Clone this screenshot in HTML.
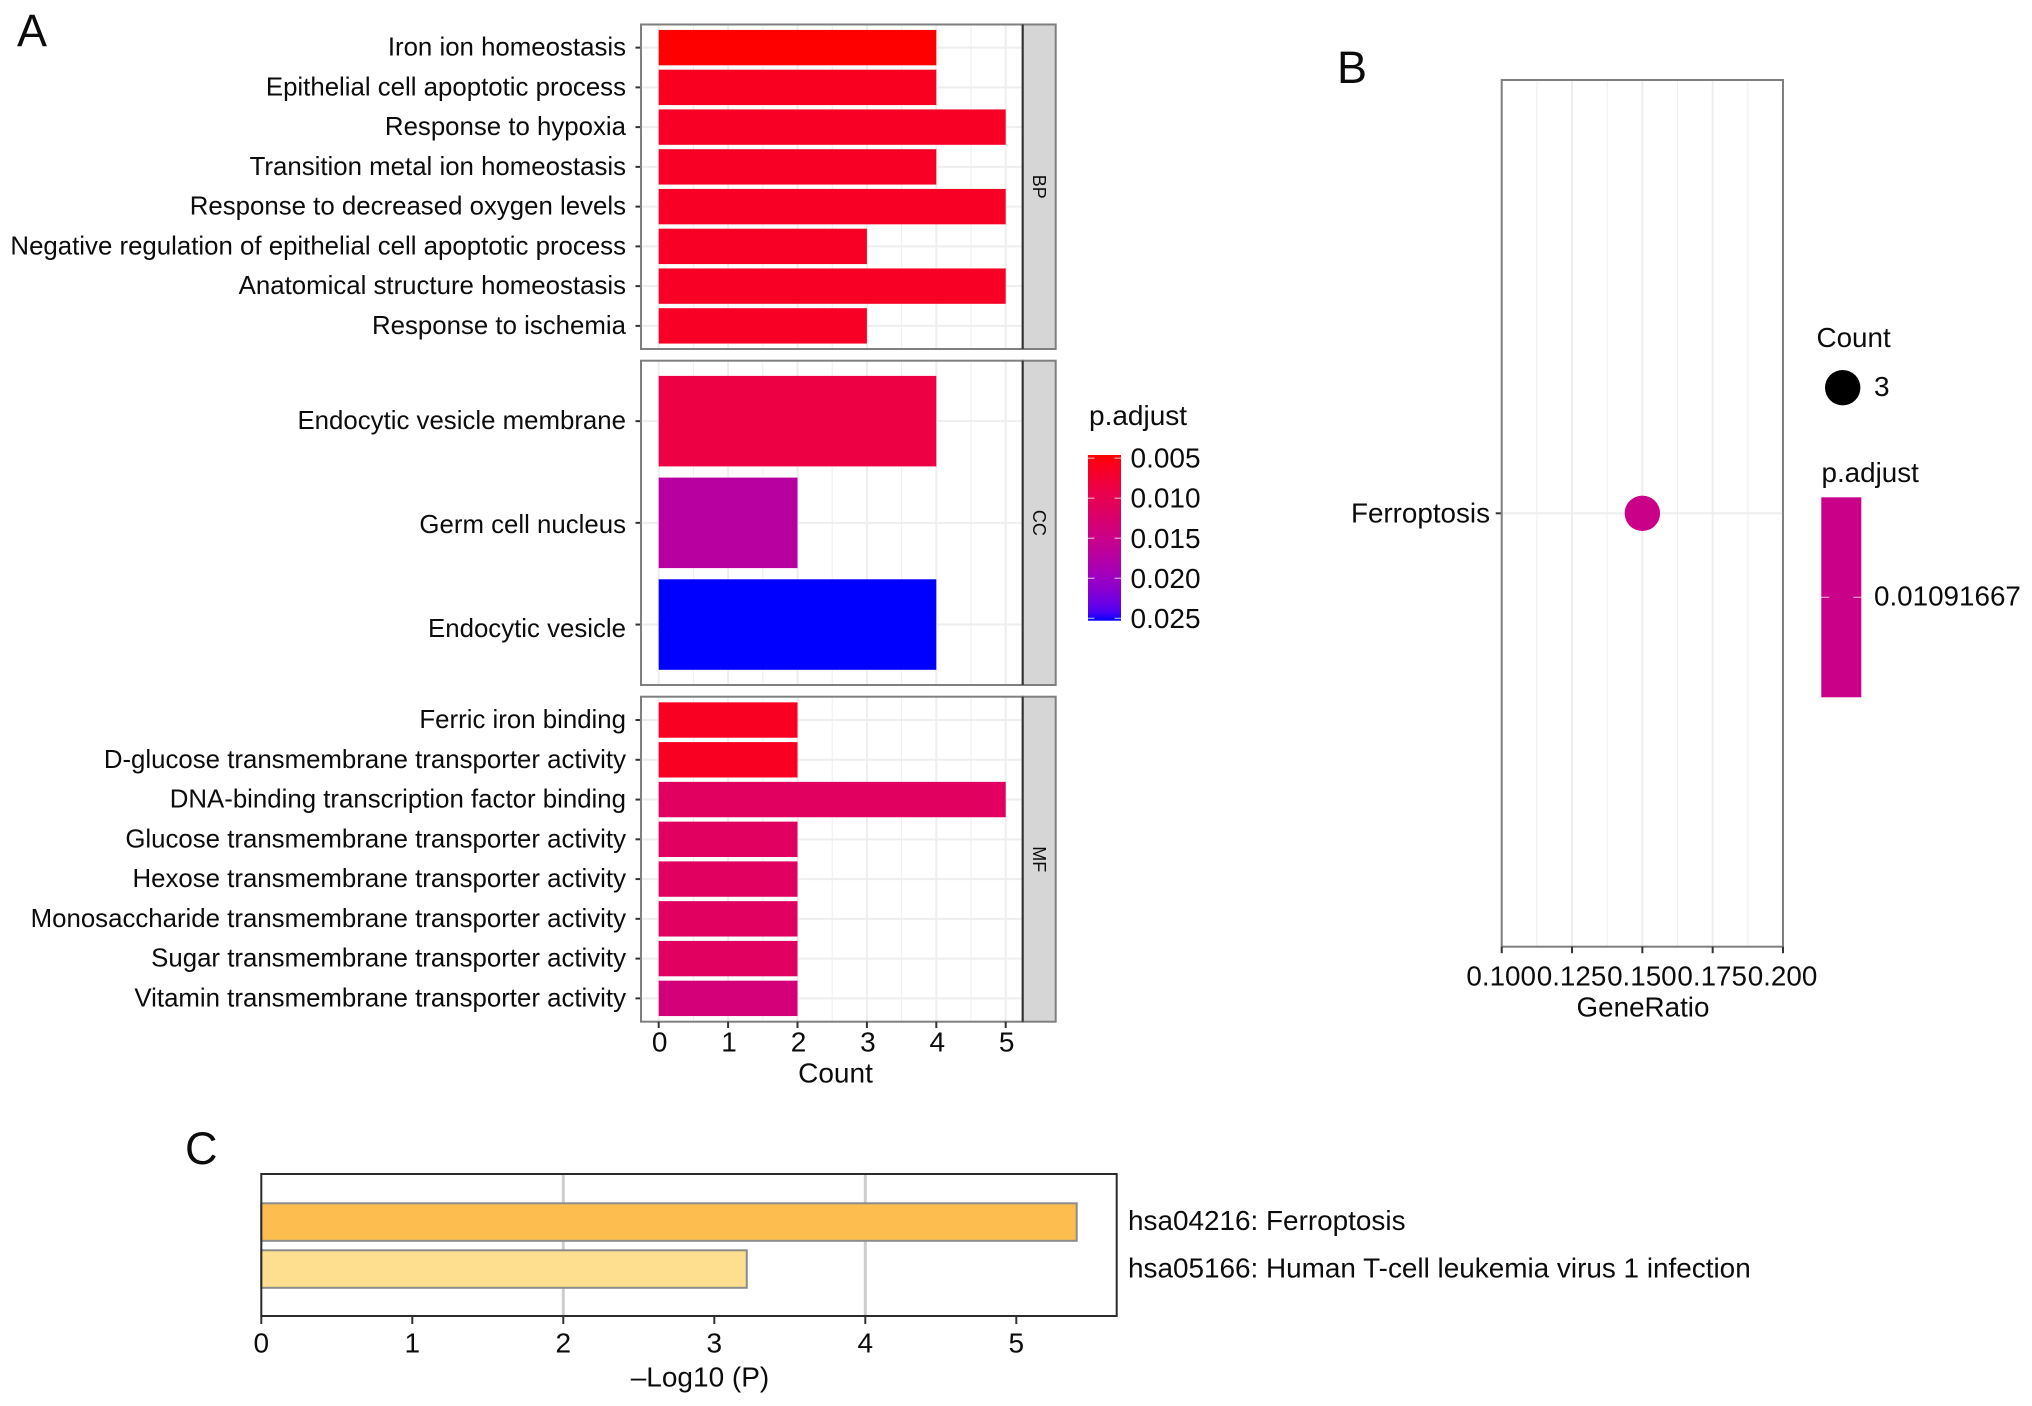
<!DOCTYPE html>
<html lang="en">
<head>
<meta charset="utf-8">
<title>Enrichment analysis panels</title>
<style>
html,body{margin:0;padding:0;background:#fff;}
#figure{display:block;width:2032px;height:1406px;font-family:"Liberation Sans",Arial,sans-serif;}
text{fill:#0c0c0c;}
</style>
</head>
<body>
<svg id="figure" xmlns="http://www.w3.org/2000/svg" width="2032" height="1406" viewBox="0 0 2032 1406">
<defs id="defs"></defs>
</svg>
<script>
// ---- Panel A data ----
const bpTerms = ["Iron ion homeostasis","Epithelial cell apoptotic process","Response to hypoxia","Transition metal ion homeostasis","Response to decreased oxygen levels","Negative regulation of epithelial cell apoptotic process","Anatomical structure homeostasis","Response to ischemia"];
const bpCounts = [4,4,5,4,5,3,5,3];
const bpPadjust = [0.0046,0.0060,0.0063,0.0063,0.0063,0.0063,0.0064,0.0064];
const ccTerms = ["Endocytic vesicle membrane","Germ cell nucleus","Endocytic vesicle"];
const ccCounts = [4,2,4];
const ccPadjust = [0.0088,0.0172,0.0253];
const mfTerms = ["Ferric iron binding","D-glucose transmembrane transporter activity","DNA-binding transcription factor binding","Glucose transmembrane transporter activity","Hexose transmembrane transporter activity","Monosaccharide transmembrane transporter activity","Sugar transmembrane transporter activity","Vitamin transmembrane transporter activity"];
const mfCounts = [2,2,5,2,2,2,2,2];
const mfPadjust = [0.0061,0.0061,0.0112,0.0112,0.0112,0.0112,0.0112,0.0135];
const countTicks = [0,1,2,3,4,5];
const padjustTicks = [0.005,0.010,0.015,0.020,0.025];
// ---- Panel B data ----
const pathwayB = ["Ferroptosis"];
const geneRatio = [0.15];
const ratioTicks = [0.100,0.125,0.150,0.175,0.200];
const legendCount = [3];
const legendPadjust = ["0.01091667"];
// ---- Panel C data ----
const keggTerms = ["hsa04216: Ferroptosis","hsa05166: Human T-cell leukemia virus 1 infection"];
const keggLogP = [5.4,3.215];
const keggColors = ["#fdbe4f","#fddf8f"];
const logPTicks = [0,1,2,3,4,5];
const logPGrid = [2,4];

const NS = "http://www.w3.org/2000/svg";
const svg = document.getElementById("figure");

function mk(tag, attrs, name, content) {
  const el = document.createElementNS(NS, tag);
  for (const k in attrs) el.setAttribute(k, attrs[k]);
  
  
  if (content !== undefined) el.textContent = content;
  svg.appendChild(el);
  return el;
}
function slug(s) { return s.toLowerCase().replace(/[^a-z0-9]+/g, '-').replace(/^-|-$/g, ''); }
function line(x1, y1, x2, y2, stroke, w, name) {
  return mk('line', {x1, y1, x2, y2, stroke, 'stroke-width': w}, name);
}
function label(x, y, str, size, anchor, name) {
  return mk('text', {x, y, 'font-size': size, 'text-anchor': anchor}, name, str);
}

// ---- Lab colour scale red -> blue (same as ggplot's gradient) ----
const labRed = [53.24, 80.09, 67.2];
const labBlue = [32.3, 79.19, -107.86];
function labToHex(L, a, b) {
  const fy = (L + 16) / 116, fx = fy + a / 500, fz = fy - b / 200;
  const inv = t => t > 0.206893 ? t * t * t : (t - 16 / 116) / 7.787;
  const X = 0.95047 * inv(fx), Y = inv(fy), Z = 1.08883 * inv(fz);
  const lin = [3.2406 * X - 1.5372 * Y - 0.4986 * Z, -0.9689 * X + 1.8758 * Y + 0.0415 * Z, 0.0557 * X - 0.2040 * Y + 1.0570 * Z];
  return '#' + lin.map(c => {
    c = Math.max(0, Math.min(1, c));
    const s = c <= 0.0031308 ? 12.92 * c : 1.055 * Math.pow(c, 1 / 2.4) - 0.055;
    return Math.round(s * 255).toString(16).padStart(2, '0');
  }).join('');
}
function gradColor(t) {
  return labToHex(labRed[0] + (labBlue[0] - labRed[0]) * t, labRed[1] + (labBlue[1] - labRed[1]) * t, labRed[2] + (labBlue[2] - labRed[2]) * t);
}
const pMin = 0.0046, pMax = 0.0253;
const pColor = p => gradColor(Math.max(0, Math.min(1, (p - pMin) / (pMax - pMin))));

// ---- Panel letters ----
label(17, 46, "A", 45, 'start', 'panel-a-letter');
label(1337, 83, "B", 45, 'start', 'panel-b-letter');
label(185, 1164, "C", 45, 'start', 'panel-c-letter');

// ---- Panel A ----
const aLeft = 641, aRight = 1022.7, stripRight = 1055.7;
const xCount = v => 658.7 + v * 69.4;
const GRID = '#eeeeee', BORDER = '#7f7f7f';

function facet(key, terms, counts, pvals, top, bottom, step, labelStep, labelShift) {
  const mid = (top + bottom) / 2;
  const yBand = i => mid + (i - (terms.length - 1) / 2) * step;
  const yLabel = i => mid + labelShift + (i - (terms.length - 1) / 2) * labelStep;
  const barH = step * 0.89;
  mk('rect', {x: aLeft, y: top, width: aRight - aLeft, height: bottom - top, fill: '#fff'}, key + '-panel-background');
  countTicks.forEach(v => {
    line(xCount(v), top, xCount(v), bottom, GRID, 2, key + '-gridline-major');
    if (v < 5) line(xCount(v + 0.5), top, xCount(v + 0.5), bottom, GRID, 1, key + '-gridline-minor');
  });
  terms.forEach((t, i) => line(aLeft, yBand(i), aRight, yBand(i), GRID, 2, key + '-gridline-horizontal'));
  terms.forEach((t, i) => {
    mk('rect', {x: xCount(0), y: yBand(i) - barH / 2, width: xCount(counts[i]) - xCount(0), height: barH, fill: pColor(pvals[i])}, 'bar-' + slug(t));
    line(aLeft - 5.5, yBand(i), aLeft, yBand(i), '#333', 2, key + '-y-tick');
    label(626, yLabel(i) + 8, t, 25.82, 'end', 'y-label-' + slug(t));
  });
  mk('rect', {x: aLeft, y: top, width: aRight - aLeft, height: bottom - top, fill: 'none', stroke: BORDER, 'stroke-width': 2}, key + '-panel-border');
  mk('rect', {x: aRight, y: top, width: stripRight - aRight, height: bottom - top, fill: '#d6d6d6', stroke: BORDER, 'stroke-width': 2}, key + '-strip');
  line(aRight, top, aRight, bottom, '#333', 2, key + '-strip-divider');
  const cx = (aRight + stripRight) / 2;
  mk('text', {x: 0, y: 0, 'font-size': 18, 'text-anchor': 'middle', transform: 'translate(' + (cx - 6) + ',' + mid + ') rotate(90)'}, key + '-strip-label', key.toUpperCase());
}
facet('bp', bpTerms, bpCounts, bpPadjust, 24.5, 349, 39.75, 39.75, 0);
facet('cc', ccTerms, ccCounts, ccPadjust, 360.7, 685, 101.7, 104, 2);
facet('mf', mfTerms, mfCounts, mfPadjust, 696.7, 1021.7, 39.76, 39.76, 0);

countTicks.forEach(v => {
  line(xCount(v), 1021.7, xCount(v), 1028, '#333', 2, 'count-axis-tick');
  label(xCount(v) + 1, 1051.7, String(v), 28, 'middle', 'count-axis-label');
});
label(835.5, 1082.5, "Count", 28, 'middle', 'count-axis-title');

// Panel A colour legend
label(1089, 425, "p.adjust", 28, 'start', 'panel-a-legend-title');
const gradient = document.createElementNS(NS, 'linearGradient');
gradient.setAttribute('id', 'padjGradient');
gradient.setAttribute('x1', '0'); gradient.setAttribute('y1', '0');
gradient.setAttribute('x2', '0'); gradient.setAttribute('y2', '1');
for (let i = 0; i <= 20; i++) {
  const st = document.createElementNS(NS, 'stop');
  st.setAttribute('offset', i / 20);
  st.setAttribute('stop-color', gradColor(i / 20));
  gradient.appendChild(st);
}
document.getElementById('defs').appendChild(gradient);
const legTop = 455, legBottom = 620.7, legLeft = 1088, legRight = 1121;
const yLegend = p => legTop + (p - pMin) / (pMax - pMin) * (legBottom - legTop);
mk('rect', {x: legLeft, y: legTop, width: legRight - legLeft, height: legBottom - legTop, fill: 'url(#padjGradient)'}, 'panel-a-colorbar');
padjustTicks.forEach(p => {
  const y = yLegend(p);
  line(legLeft, y, legLeft + 6.5, y, 'rgba(255,255,255,0.65)', 1.2, 'colorbar-tick');
  line(legRight - 6.5, y, legRight, y, 'rgba(255,255,255,0.65)', 1.2, 'colorbar-tick');
  label(1130.5, y + 9.5, p.toFixed(3), 28, 'start', 'colorbar-label');
});

// ---- Panel B ----
const bTop = 80, bBottom = 946.7, bLeft = 1501.7, bRight = 1783;
const xRatio = v => bLeft + (v - 0.1) / 0.1 * (bRight - bLeft);
const yPath = i => 513.3 + i;
ratioTicks.forEach((v, i) => {
  line(xRatio(v), bTop, xRatio(v), bBottom, GRID, 2, 'ratio-gridline-major');
  if (i < ratioTicks.length - 1) line(xRatio(v + 0.0125), bTop, xRatio(v + 0.0125), bBottom, GRID, 1, 'ratio-gridline-minor');
});
pathwayB.forEach((t, i) => {
  line(bLeft, yPath(i), bRight, yPath(i), GRID, 2, 'pathway-gridline');
  line(bLeft - 6, yPath(i), bLeft, yPath(i), '#333', 2, 'pathway-tick');
  label(1490, yPath(i) + 9, t, 27.8, 'end', 'pathway-label-' + slug(t));
  mk('circle', {cx: xRatio(geneRatio[i]), cy: yPath(i), r: 17.7, fill: gradColor(0.5)}, 'dot-' + slug(t));
});
mk('rect', {x: bLeft, y: bTop, width: bRight - bLeft, height: bBottom - bTop, fill: 'none', stroke: BORDER, 'stroke-width': 2}, 'panel-b-border');
ratioTicks.forEach(v => {
  line(xRatio(v), bBottom, xRatio(v), bBottom + 6.5, '#333', 2, 'ratio-axis-tick');
  label(xRatio(v) - 0.5, 985.5, v.toFixed(3), 27.8, 'middle', 'ratio-axis-label');
});
label(1643, 1016.7, "GeneRatio", 27.8, 'middle', 'ratio-axis-title');

label(1816.5, 347.2, "Count", 27.8, 'start', 'panel-b-size-legend-title');
mk('circle', {cx: 1842.7, cy: 387.7, r: 17.7, fill: '#000'}, 'size-legend-dot');
label(1874, 396, String(legendCount[0]), 28, 'start', 'size-legend-label');
label(1821.5, 482.2, "p.adjust", 27.8, 'start', 'panel-b-legend-title');
mk('rect', {x: 1821.3, y: 497.3, width: 40, height: 200, fill: gradColor(0.5)}, 'panel-b-colorbar');
line(1821.3, 597.3, 1829.3, 597.3, 'rgba(255,255,255,0.6)', 1.2, 'panel-b-colorbar-tick');
line(1853.3, 597.3, 1861.3, 597.3, 'rgba(255,255,255,0.6)', 1.2, 'panel-b-colorbar-tick');
label(1874, 605.5, legendPadjust[0], 27.8, 'start', 'panel-b-colorbar-label');

// ---- Panel C ----
const cTop = 1174, cBottom = 1316, cLeft = 261.3, cRight = 1116.7;
const xLogP = v => cLeft + v * 151;
const cBarTop = i => 1203.3 + i * 47;
const cBarH = 37.5;
const cLabelY = i => 1230 + i * 47.7;
logPGrid.forEach(v => line(xLogP(v), cTop, xLogP(v), cBottom, '#cdcdcd', 3, 'logp-gridline'));
keggTerms.forEach((t, i) => {
  mk('rect', {x: cLeft, y: cBarTop(i), width: xLogP(keggLogP[i]) - cLeft, height: cBarH, fill: keggColors[i], stroke: '#8c8c8c', 'stroke-width': 2}, 'bar-' + slug(t));
  label(1128, cLabelY(i), t, 27.9, 'start', 'kegg-label-' + slug(t));
});
mk('rect', {x: cLeft, y: cTop, width: cRight - cLeft, height: cBottom - cTop, fill: 'none', stroke: '#2b2b2b', 'stroke-width': 2}, 'panel-c-border');
logPTicks.forEach(v => {
  line(xLogP(v), cBottom, xLogP(v), cBottom + 8, '#333', 2, 'logp-axis-tick');
  label(xLogP(v), 1352.5, String(v), 28, 'middle', 'logp-axis-label');
});
label(700, 1386.7, "\u2013Log10 (P)", 28, 'middle', 'logp-axis-title');
</script>
</body>
</html>
